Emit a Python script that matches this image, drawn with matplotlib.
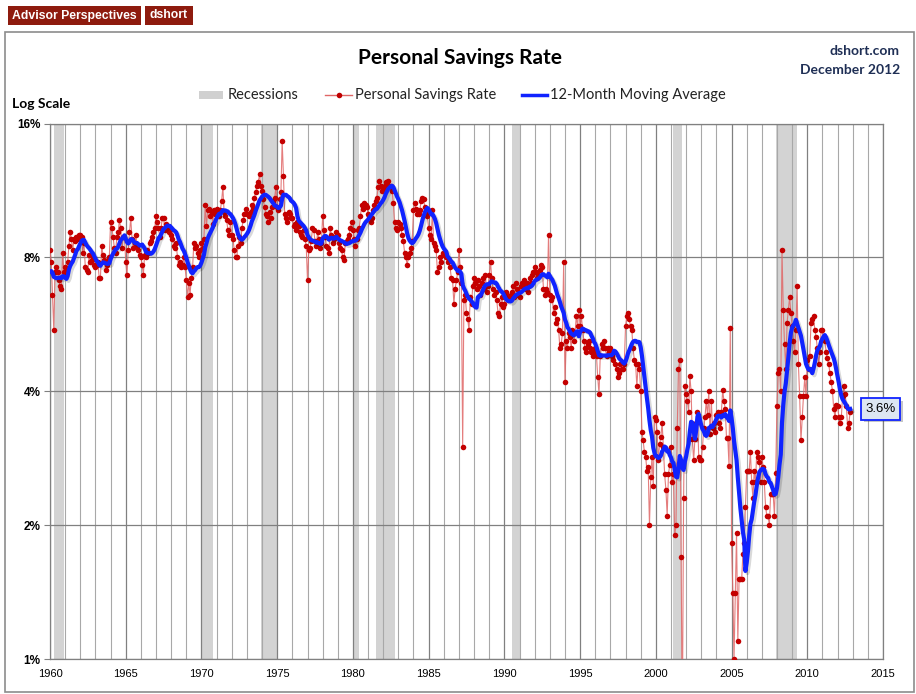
import numpy as np
import pandas as pd
import matplotlib
matplotlib.use("Agg")
import matplotlib.pyplot as plt
import matplotlib.dates as mdates
import matplotlib.patheffects as pe
from matplotlib.patches import Rectangle
from matplotlib.lines import Line2D

# personal savings rate, monthly (%)
# 1959 only feeds the 12-month average
savings_1959 = [7.8, 7.5, 7.3, 7.4, 7.7, 7.9, 7.3, 7.0, 6.8, 7.1, 7.3, 7.5]

savings_1960s = [
    8.3, 7.8, 6.6, 5.5, 7.4, 7.6, 7.4, 7.1, 6.9, 6.8, 8.2, 7.4,
    7.6, 7.4, 7.8, 8.5, 9.1, 8.8, 8.3, 8.8, 8.7, 8.9, 8.8, 9.0,
    9.0, 8.9, 8.2, 8.6, 7.6, 7.5, 7.4, 8.1, 7.8, 7.9, 8.0, 7.7,
    7.6, 7.7, 7.8, 7.2, 7.2, 8.5, 8.1, 7.9, 7.5, 7.7, 7.9, 8.0,
    9.6, 9.3, 8.9, 8.4, 8.2, 8.9, 9.1, 9.7, 9.3, 8.4, 8.9, 8.9,
    7.8, 7.3, 8.3, 9.1, 9.8, 8.8, 8.4, 8.6, 9.0, 8.5, 8.3, 8.1,
    8.0, 7.7, 7.3, 8.1, 8.0, 8.3, 8.2, 8.6, 8.7, 8.9, 9.1, 9.3,
    9.9, 9.6, 9.3, 8.9, 9.3, 9.8, 9.8, 9.2, 9.5, 9.4, 9.1, 9.2,
    9.0, 8.8, 8.5, 8.4, 8.6, 8.0, 7.7, 7.8, 7.6, 7.7, 8.0, 7.6,
    7.1, 6.5, 7.0, 6.6, 7.2, 7.6, 8.6, 8.4, 8.5, 8.2, 8.0, 8.3,
]

savings_1970s = [
    8.6, 8.4, 8.8, 10.5, 9.4, 10.2, 10.3, 9.9, 10.1, 9.5, 10.2, 10.0,
    10.3, 10.0, 9.9, 10.2, 10.7, 11.5, 10.1, 9.9, 9.7, 9.2, 9.0, 9.6,
    9.0, 8.8, 8.3, 8.0, 8.0, 8.5, 8.9, 8.6, 9.3, 9.7, 10.0, 10.3,
    10.0, 10.0, 9.9, 10.1, 10.5, 10.3, 10.9, 11.2, 11.6, 11.8, 12.3, 11.6,
    11.3, 10.8, 10.4, 10.0, 9.9, 9.6, 10.1, 9.8, 10.4, 10.7, 10.9, 11.5,
    10.4, 10.2, 10.8, 11.2, 14.6, 12.2, 10.0, 9.8, 9.6, 10.1, 10.0, 9.8,
    9.8, 9.4, 9.5, 9.2, 9.6, 9.4, 9.1, 9.0, 8.9, 9.2, 8.8, 8.5,
    7.1, 8.3, 8.4, 8.7, 9.3, 9.2, 8.7, 8.5, 9.1, 8.8, 8.4, 8.6,
    9.9, 9.2, 8.9, 8.5, 8.4, 8.2, 9.3, 9.0, 8.6, 8.8, 8.9, 9.1,
    9.0, 8.6, 8.4, 8.3, 8.0, 7.9, 8.6, 8.7, 8.8, 9.0, 9.3, 9.6,
]

savings_1980s = [
    9.2, 8.8, 8.5, 8.8, 9.2, 9.3, 9.9, 10.5, 10.3, 10.6, 10.5, 10.4,
    10.0, 9.9, 9.6, 9.8, 10.2, 10.5, 10.7, 10.9, 11.5, 11.9, 11.6, 11.3,
    11.4, 11.6, 11.8, 11.7, 11.9, 11.5, 11.6, 11.3, 10.6, 9.6, 9.3, 9.2,
    9.6, 9.5, 9.3, 9.0, 8.7, 8.2, 8.0, 7.7, 8.0, 8.2, 8.4, 8.7,
    10.2, 10.6, 10.3, 10.0, 10.0, 10.2, 10.7, 10.9, 10.8, 10.4, 10.0, 9.9,
    9.3, 9.0, 8.8, 10.2, 8.6, 8.5, 8.3, 7.4, 7.6, 8.0, 7.8, 8.2,
    8.1, 8.2, 8.0, 7.8, 7.9, 7.6, 7.2, 7.1, 6.3, 6.8, 7.1, 7.4,
    8.3, 7.6, 7.0, 3.0, 6.4, 6.6, 6.0, 5.8, 5.5, 6.5, 6.3, 6.9,
    7.2, 7.0, 6.8, 7.1, 6.9, 6.6, 7.0, 7.2, 6.8, 7.3, 6.7, 6.9,
    7.3, 7.8, 7.2, 6.8, 6.6, 6.7, 6.4, 6.0, 5.9, 6.3, 6.5, 6.2,
]

savings_1990s = [
    6.3, 6.7, 6.6, 6.4, 6.5, 6.6, 6.7, 6.9, 6.5, 7.0, 6.8, 6.6,
    6.5, 6.9, 7.0, 6.9, 7.1, 6.8, 7.0, 6.7, 7.2, 7.0, 7.3, 7.4,
    7.6, 7.4, 7.2, 7.3, 7.5, 7.7, 7.6, 6.8, 6.6, 6.8, 6.7, 9.0,
    6.6, 6.4, 6.5, 6.0, 6.2, 5.7, 5.8, 5.5, 5.0, 5.1, 5.4, 7.8,
    4.2, 5.2, 5.0, 5.4, 5.3, 5.0, 5.5, 5.2, 5.4, 5.9, 5.6, 6.1,
    5.6, 5.9, 5.5, 5.2, 5.0, 4.9, 5.1, 5.2, 5.0, 4.9, 4.8, 4.9,
    5.0, 4.8, 4.3, 3.95, 4.8, 5.1, 5.0, 5.2, 5.0, 4.8, 5.0, 4.9,
    5.0, 4.8, 4.7, 4.9, 4.6, 4.5, 4.3, 4.4, 4.6, 4.5, 4.5, 4.6,
    5.6, 5.9, 6.0, 5.8, 5.6, 5.5, 5.0, 4.7, 4.6, 4.1, 4.6, 4.5,
    4.0, 3.24, 3.1, 2.92, 2.85, 2.65, 2.7, 2.0, 2.56, 2.85, 2.45, 3.5,
]

savings_2000s = [
    3.45, 3.24, 2.8, 3.05, 3.15, 3.4, 3.0, 2.6, 2.4, 2.1, 2.6, 2.73,
    3.0, 2.5, 2.6, 1.9, 2.0, 3.3, 4.5, 4.7, 1.7, 0.7, 2.3, 4.1,
    3.95, 3.8, 3.6, 4.33, 4.0, 3.12, 2.8, 3.12, 3.4, 3.6, 2.85, 2.8,
    2.8, 3.0, 3.3, 3.5, 3.8, 3.53, 4.0, 3.2, 3.8, 3.3, 3.4, 3.24,
    3.53, 3.6, 3.4, 3.3, 3.6, 4.03, 3.8, 3.65, 3.14, 3.14, 2.72, 5.56,
    1.82, 1.41, 1.0, 1.41, 1.92, 1.1, 1.51, 1.51, 1.51, 1.72, 1.82, 2.2,
    2.65, 2.65, 2.65, 2.92, 2.5, 2.3, 2.65, 2.5, 2.92, 2.85, 2.78, 2.5,
    2.85, 2.7, 2.5, 2.2, 2.1, 2.1, 2.0, 2.35, 2.35, 2.35, 2.1, 2.62,
    3.7, 4.4, 4.5, 4.0, 8.3, 6.1, 5.1, 4.5, 5.7, 6.1, 6.5, 6.0,
    5.6, 5.2, 4.9, 5.5, 6.9, 4.6, 3.9, 3.1, 3.5, 3.9, 4.3, 3.9,
]

savings_2010s = [
    4.7, 4.5, 4.8, 5.7, 5.8, 5.9, 5.5, 5.3, 5.0, 4.6, 4.9, 5.5,
    5.5, 5.3, 5.2, 4.9, 4.75, 4.6, 4.4, 4.2, 4.0, 3.64, 3.5, 3.73,
    3.7, 3.5, 3.4, 3.5, 3.9, 4.1, 3.95, 3.7, 3.3, 3.4, 3.6,
]

recession_starts = ['1960-04-01', '1969-12-15', '1973-12-01', '1980-01-01',
                    '1981-07-01', '1990-07-01', '2001-03-01', '2007-12-20']
recession_ends = ['1960-12-15', '1970-10-01', '1975-01-01', '1980-05-15',
                  '1982-10-01', '1991-01-01', '2001-10-01', '2009-05-01']

y_ticks = [1, 2, 4, 8, 16]

# ---- data prep
values = (savings_1959 + savings_1960s + savings_1970s + savings_1980s
          + savings_1990s + savings_2000s + savings_2010s)
dates = pd.date_range('1959-01-01', periods=len(values), freq='MS')
rate = pd.Series(values, index=dates)
ma12 = rate.rolling(12).mean()
rate = rate['1960':]
ma12 = ma12['1960':]

W, H = 916, 694
def fx(px):
    return px / W
def fy(py):
    return 1 - py / H

fig = plt.figure(figsize=(W / 100, H / 100), dpi=100, facecolor='white')

# outer panel frame
fig.patches.append(Rectangle((fx(5), fy(692)), (914 - 5) / W, (692 - 32) / H,
                             transform=fig.transFigure, fill=False,
                             ec='#8c8c8c', lw=1.2))

# header badges
for x0, x1, label in [(8, 141, 'Advisor Perspectives'), (145, 193, 'dshort')]:
    fig.patches.append(Rectangle((fx(x0), fy(25)), (x1 - x0) / W, 19 / H,
                                 transform=fig.transFigure, fc='#8e1b0e', ec='none'))
    fig.text(fx((x0 + x1) / 2), fy(15.5), label, color='white', fontsize=8.8,
             fontweight='bold', family='Liberation Sans', ha='center', va='center')

fig.text(fx(460), fy(58), 'Personal Savings Rate', fontsize=15, fontweight='bold',
         family='Lato', ha='center', va='center')
fig.text(fx(900), fy(51), 'dshort.com', fontsize=10, fontweight='bold',
         family='Lato', color='#1f2f55', ha='right', va='center')
fig.text(fx(900), fy(70), 'December 2012', fontsize=10, fontweight='bold',
         family='Lato', color='#1f2f55', ha='right', va='center')
fig.text(fx(12), fy(104), 'Log Scale', fontsize=10, fontweight='bold',
         family='Lato', ha='left', va='center')

# legend (drawn by hand to sit where the original puts it)
fig.patches.append(Rectangle((fx(199), fy(99)), 24 / W, 8 / H,
                             transform=fig.transFigure, fc='#d0d0d0', ec='none'))
fig.text(fx(228), fy(95), 'Recessions', fontsize=10.5, family='Lato',
         color='#222222', ha='left', va='center')
fig.lines.append(Line2D([fx(325), fx(352)], [fy(95), fy(95)], transform=fig.transFigure,
                        color='#e06666', lw=1))
fig.lines.append(Line2D([fx(338.5)], [fy(95)], transform=fig.transFigure,
                        marker='o', ms=4, color='#c00000', mew=0))
fig.text(fx(355), fy(95), 'Personal Savings Rate', fontsize=10.5, family='Lato',
         color='#222222', ha='left', va='center')
fig.lines.append(Line2D([fx(522), fx(547)], [fy(95), fy(95)], transform=fig.transFigure,
                        color='#1023ff', lw=2.5))
fig.text(fx(550), fy(95), '12-Month Moving Average', fontsize=10.5, family='Lato',
         color='#222222', ha='left', va='center')

# ---- main axes
ax = fig.add_axes([fx(50), fy(659), (883 - 50) / W, (659 - 123.5) / H])

for s, e in zip(recession_starts, recession_ends):
    ax.axvspan(pd.Timestamp(s), pd.Timestamp(e), color='#d3d3d3', lw=0, zorder=0.2)

ax.plot(rate.index, rate.values, color='#e06666', lw=0.8, alpha=0.85, zorder=3)
ax.plot(rate.index, rate.values, 'o', ms=4, color='#c40000', mew=0, zorder=4)
ax.plot(ma12.index, ma12.values, color='#1023ff', lw=3, zorder=5,
        path_effects=[pe.SimpleLineShadow(offset=(1.5, -1.5), shadow_color='black', alpha=0.15),
                      pe.Normal()])

ax.set_yscale('log', base=2)
ax.set_ylim(1, 16)
ax.set_yticks(y_ticks)
ax.set_yticklabels([f'{t}%' for t in y_ticks])
ax.yaxis.set_minor_locator(matplotlib.ticker.NullLocator())
ax.set_xlim(pd.Timestamp('1960-01-01'), pd.Timestamp('2015-01-01'))
ax.xaxis.set_major_locator(mdates.YearLocator(5))
ax.xaxis.set_minor_locator(mdates.YearLocator(1))
ax.xaxis.set_major_formatter(mdates.DateFormatter('%Y'))

ax.set_axisbelow(True)
ax.grid(which='minor', axis='x', color='#a8a8a8', lw=0.8)
ax.grid(which='major', axis='x', color='#808080', lw=0.9)
ax.grid(which='major', axis='y', color='#808080', lw=0.9)

for side in ['top', 'bottom', 'left', 'right']:
    ax.spines[side].set_color('#808080')
    ax.spines[side].set_linewidth(0.9)

ax.tick_params(axis='x', which='both', length=0, pad=7, labelsize=8)
ax.tick_params(axis='y', which='major', length=4, color='#808080', pad=3, labelsize=8.5)
for lbl in ax.get_xticklabels():
    lbl.set_family('Liberation Sans')
for lbl in ax.get_yticklabels():
    lbl.set_family('Liberation Sans')
    lbl.set_fontweight('bold')

# last value callout
ann = ax.annotate(f'{rate.iloc[-1]:.1f}%', xy=(ma12.index[-1], ma12.iloc[-1]),
                  xytext=(11, 0), textcoords='offset points', ha='left', va='center',
                  fontsize=9.5, family='Liberation Sans', zorder=6,
                  bbox=dict(boxstyle='square,pad=0.35', fc='#dce6f2', ec='#1023ff', lw=1.3))
ann.get_bbox_patch().set_path_effects([pe.withSimplePatchShadow(offset=(2, -2), alpha=0.3)])

fig.savefig('out.png', dpi=100, facecolor='white')
